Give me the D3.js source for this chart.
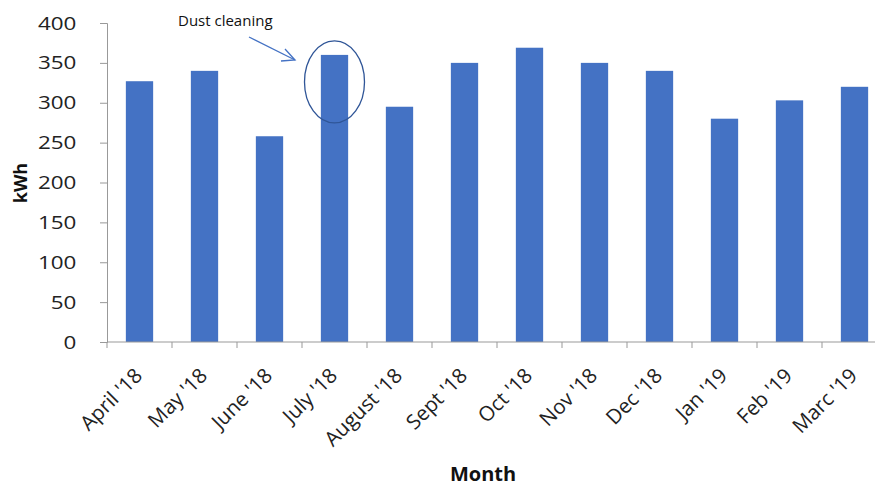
<!DOCTYPE html>
<html>
<head>
<meta charset="utf-8">
<script src="https://cdn.jsdelivr.net/npm/d3@7"></script>
<style>
	body { margin: 0; background: #fff; }
	text { font-family: "Open Sans", "DejaVu Sans", sans-serif; }
</style>
</head>
<body>
<div id="chart"></div>
<script>
var months = ["April '18", "May '18", "June '18", "July '18", "August '18", "Sept '18",
	"Oct '18", "Nov '18", "Dec '18", "Jan '19", "Feb '19", "Marc '19"];
var energy = [327, 340, 258, 360, 295, 350, 369, 350, 340, 280, 303, 320];
var yTicks = [0, 50, 100, 150, 200, 250, 300, 350, 400];
var noteText = "Dust cleaning";
var noteMonth = "July '18";

var W = 875, H = 486;

var svg = d3.select("#chart").append("svg")
	.attr("width", W)
	.attr("height", H);

var x = d3.scaleBand()
	.domain(months)
	.range([107, 887])
	.paddingInner(0.58)
	.paddingOuter(0.29);

var y = d3.scaleLinear()
	.domain([0, 400])
	.range([342, 23]);

// bars
svg.append("g").selectAll("rect")
	.data(energy)
	.enter().append("rect")
	.attr("x", function(d, i) { return x(months[i]); })
	.attr("y", function(d) { return y(d); })
	.attr("width", x.bandwidth())
	.attr("height", function(d) { return y(0) - y(d); })
	.attr("fill", "#4472C4");

// y axis
var yAxis = svg.append("g")
	.attr("transform", "translate(107,0)")
	.call(d3.axisLeft(y).tickValues(yTicks).tickSize(7).tickPadding(19));
yAxis.select(".domain").attr("stroke", "#999");
yAxis.selectAll(".tick line").attr("stroke", "#999");
yAxis.selectAll(".tick text")
	.attr("font-size", "19px")
	.attr("fill", "#222")
	.attr("transform", "scale(1.18,1)")
	.attr("x", -26);

// x axis: ticks at band edges
var xAxis = svg.append("g")
	.attr("transform", "translate(0,342)");
xAxis.append("line")
	.attr("x1", 107).attr("x2", W)
	.attr("stroke", "#999");
var edges = months.map(function(m, i) {
	return i == 0 ? 107 : x(m) - x.step() * x.paddingInner() / 2;
});
xAxis.selectAll(".edge")
	.data(edges)
	.enter().append("line")
	.attr("x1", function(d) { return d; })
	.attr("x2", function(d) { return d; })
	.attr("y1", 0).attr("y2", 6)
	.attr("stroke", "#999");

xAxis.selectAll(".lbl")
	.data(months)
	.enter().append("text")
	.attr("transform", function(d) {
		return "translate(" + (x(d) + x.bandwidth() / 2 + 4) + ",35) rotate(-45)";
	})
	.attr("text-anchor", "end")
	.attr("font-size", "20.5px")
	.attr("fill", "#222")
	.text(function(d) { return d; });

// axis titles
svg.append("text")
	.attr("transform", "translate(27,183) rotate(-90)")
	.attr("text-anchor", "middle")
	.attr("font-size", "18px")
	.attr("font-weight", "bold")
	.attr("fill", "#111")
	.text("kWh");

svg.append("text")
	.attr("x", 483)
	.attr("y", 481)
	.attr("text-anchor", "middle")
	.attr("font-size", "20px")
	.attr("font-weight", "bold")
	.attr("fill", "#111")
	.text("Month");

// annotation
var ni = months.indexOf(noteMonth);
var cx = x(noteMonth) + x.bandwidth() / 2;
svg.append("ellipse")
	.attr("cx", cx)
	.attr("cy", y(energy[ni]) + 27)
	.attr("rx", 30)
	.attr("ry", 41)
	.attr("fill", "none")
	.attr("stroke", "#2F5597")
	.attr("stroke-width", 1.3);

svg.append("text")
	.attr("x", 178)
	.attr("y", 26)
	.attr("font-size", "15px")
	.attr("fill", "#111")
	.text(noteText);

var ax0 = 249, ay0 = 37, ax1 = 295, ay1 = 60;
svg.append("line")
	.attr("x1", ax0).attr("y1", ay0)
	.attr("x2", ax1).attr("y2", ay1)
	.attr("stroke", "#4472C4")
	.attr("stroke-width", 1.3);
svg.append("path")
	.attr("d", "M" + (ax1 - 10) + "," + (ay1 - 11) + " L" + ax1 + "," + ay1 + " L" + (ax1 - 14) + "," + (ay1 + 1))
	.attr("fill", "none")
	.attr("stroke", "#4472C4")
	.attr("stroke-width", 1.3);
</script>
</body>
</html>
